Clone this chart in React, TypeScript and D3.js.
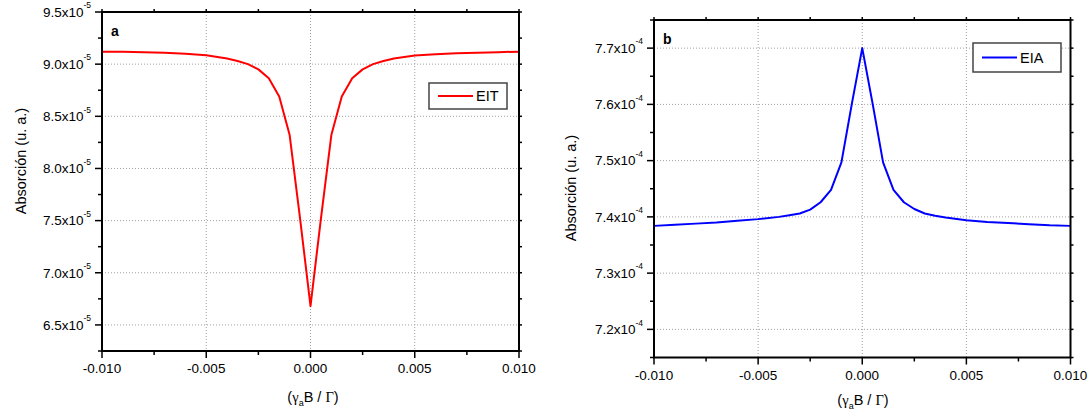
import React from "react";
import * as d3 from "d3";

// ---------- data ----------
const eitX = [-0.010, -0.009, -0.008, -0.007, -0.006, -0.005, -0.004, -0.0035, -0.003, -0.0025, -0.002, -0.0015, -0.001, -0.0005, 0,
  0.0005, 0.001, 0.0015, 0.002, 0.0025, 0.003, 0.0035, 0.004, 0.005, 0.006, 0.007, 0.008, 0.009, 0.010];
const eitY = [9.12, 9.118, 9.115, 9.11, 9.10, 9.085, 9.055, 9.03, 9.0, 8.95, 8.865, 8.69, 8.32, 7.52, 6.68,
  7.52, 8.32, 8.69, 8.865, 8.95, 9.0, 9.03, 9.055, 9.082, 9.096, 9.104, 9.11, 9.115, 9.12];

const eiaX = [-0.010, -0.009, -0.008, -0.007, -0.006, -0.005, -0.004, -0.0035, -0.003, -0.0025, -0.002, -0.0015, -0.001, -0.0005, 0,
  0.0005, 0.001, 0.0015, 0.002, 0.0025, 0.003, 0.0035, 0.004, 0.005, 0.006, 0.007, 0.008, 0.009, 0.010];
const eiaY = [7.384, 7.386, 7.388, 7.390, 7.393, 7.396, 7.400, 7.403, 7.406, 7.413, 7.426, 7.448, 7.497, 7.601, 7.700,
  7.601, 7.497, 7.448, 7.426, 7.414, 7.406, 7.402, 7.399, 7.394, 7.391, 7.389, 7.387, 7.385, 7.384];

const xMajor = [-0.01, -0.005, 0, 0.005, 0.01];
const xMajorLabels = ["-0.010", "-0.005", "0.000", "0.005", "0.010"];
const xMinor = [-0.0075, -0.0025, 0.0025, 0.0075];

const eitYMajor = [6.5, 7.0, 7.5, 8.0, 8.5, 9.0, 9.5];
const eitYMajorLabels = ["6.5", "7.0", "7.5", "8.0", "8.5", "9.0", "9.5"];
const eitYMinor = [6.25, 6.75, 7.25, 7.75, 8.25, 8.75, 9.25];
const eitExp = "-5";

const eiaYMajor = [7.2, 7.3, 7.4, 7.5, 7.6, 7.7];
const eiaYMajorLabels = ["7.2", "7.3", "7.4", "7.5", "7.6", "7.7"];
const eiaYMinor = [7.15, 7.25, 7.35, 7.45, 7.55, 7.65, 7.75];
const eiaExp = "-4";

const yTitle = "Absorción (u. a.)";

type PanelProps = {
  left: number; right: number; top: number; bottom: number;
  yDomain: [number, number];
  xs: number[]; ys: number[];
  yMajor: number[]; yMajorLabels: string[]; yMinor: number[]; exp: string;
  color: string; legend: string; tag: string;
  legendBox: [number, number, number, number];
  yTitleX: number; yTitleY: number; xTitleY: number; xTitleX: number;
};

const FONT = "Liberation Sans, Arial, sans-serif";

function Panel(p: PanelProps) {
  const x = d3.scaleLinear().domain([-0.01, 0.01]).range([p.left, p.right]);
  const y = d3.scaleLinear().domain(p.yDomain).range([p.bottom, p.top]);
  const pts = p.xs.map((v, i) => [v, p.ys[i]] as [number, number]);
  const line = d3.line<[number, number]>().x(d => x(d[0])).y(d => y(d[1]));
  const allY = [...p.yMajor, ...p.yMinor];
  const allX = [...xMajor, ...xMinor];
  const [lx, ly, lw, lh] = p.legendBox;
  return (
    <g>
      {/* grid */}
      {xMajor.filter(v => v > -0.01 && v < 0.01).map(v => (
        <line key={"gx" + v} x1={x(v)} x2={x(v)} y1={p.top} y2={p.bottom}
          stroke="#a0a0a0" strokeWidth={1} strokeDasharray="1 2" />
      ))}
      {p.yMajor.filter(v => y(v) > p.top + 2 && y(v) < p.bottom - 2).map(v => (
        <line key={"gy" + v} x1={p.left} x2={p.right} y1={y(v)} y2={y(v)}
          stroke="#a0a0a0" strokeWidth={1} strokeDasharray="1 2" />
      ))}
      {/* curve */}
      <path d={line(pts) || ""} fill="none" stroke={p.color} strokeWidth={2} strokeLinejoin="round" />
      {/* frame */}
      <rect x={p.left} y={p.top} width={p.right - p.left} height={p.bottom - p.top}
        fill="none" stroke="#000" strokeWidth={2} />
      {/* left ticks */}
      {p.yMajor.map(v => (
        <line key={"ly" + v} x1={p.left - 7} x2={p.left} y1={y(v)} y2={y(v)} stroke="#000" strokeWidth={1.5} />
      ))}
      {p.yMinor.map(v => (
        <line key={"lym" + v} x1={p.left - 4} x2={p.left} y1={y(v)} y2={y(v)} stroke="#000" strokeWidth={1.5} />
      ))}
      {/* right ticks */}
      {allY.map(v => (
        <line key={"ry" + v} x1={p.right} x2={p.right + 3} y1={y(v)} y2={y(v)} stroke="#000" strokeWidth={1.5} />
      ))}
      {/* bottom ticks */}
      {xMajor.map(v => (
        <line key={"bx" + v} x1={x(v)} x2={x(v)} y1={p.bottom} y2={p.bottom + 7} stroke="#000" strokeWidth={1.5} />
      ))}
      {xMinor.map(v => (
        <line key={"bxm" + v} x1={x(v)} x2={x(v)} y1={p.bottom} y2={p.bottom + 4} stroke="#000" strokeWidth={1.5} />
      ))}
      {/* top ticks */}
      {allX.map(v => (
        <line key={"tx" + v} x1={x(v)} x2={x(v)} y1={p.top - 3} y2={p.top} stroke="#000" strokeWidth={1.5} />
      ))}
      {/* y tick labels */}
      {p.yMajor.map((v, i) => (
        <text key={"yl" + v} x={p.left - 11} y={y(v) + 4.8} textAnchor="end" fontFamily={FONT} fontSize={13.5} fill="#000">
          {p.yMajorLabels[i]}x10<tspan fontSize={8.5} dy={-8.5}>{p.exp}</tspan>
        </text>
      ))}
      {/* x tick labels */}
      {xMajor.map((v, i) => (
        <text key={"xl" + v} x={x(v)} y={p.bottom + 22} textAnchor="middle" fontFamily={FONT} fontSize={13.5} fill="#000">
          {xMajorLabels[i]}
        </text>
      ))}
      {/* axis titles */}
      <text transform={`translate(${p.yTitleX},${p.yTitleY}) rotate(-90)`} textAnchor="middle"
        fontFamily={FONT} fontSize={14.5} fill="#000">{yTitle}</text>
      <text x={p.xTitleX} y={p.xTitleY} textAnchor="middle" fontFamily={FONT} fontSize={14.5} fill="#000">
        (<tspan fontFamily="Liberation Serif, serif">γ</tspan><tspan fontSize={9} dy={4}>a</tspan><tspan dy={-4}>B / </tspan><tspan fontFamily="Liberation Serif, serif">Γ</tspan>)
      </text>
      {/* panel tag */}
      <text x={p.left + 9} y={p.top + 24} fontFamily={FONT} fontSize={14} fontWeight="bold" fill="#000">{p.tag}</text>
      {/* legend */}
      <rect x={lx} y={ly} width={lw} height={lh} fill="#fff" stroke="#444" strokeWidth={1.5} />
      <line x1={lx + 9} x2={lx + 44} y1={ly + lh / 2} y2={ly + lh / 2} stroke={p.color} strokeWidth={2} />
      <text x={lx + 47} y={ly + lh / 2 + 5} fontFamily={FONT} fontSize={14.5} fill="#000">{p.legend}</text>
    </g>
  );
}

export default function App() {
  return (
    <svg width={1089} height={416} style={{ position: "absolute", left: 0, top: 0, background: "#fff" }}>
      <rect width={1089} height={416} fill="#fff" />
      <Panel left={102} right={519} top={12} bottom={351} yDomain={[6.25, 9.5]}
        xs={eitX} ys={eitY} yMajor={eitYMajor} yMajorLabels={eitYMajorLabels} yMinor={eitYMinor} exp={eitExp}
        color="#ff0000" legend="EIT" tag="a" legendBox={[429, 83, 78, 26]}
        yTitleX={26} yTitleY={161} xTitleX={313} xTitleY={402} />
      <Panel left={654} right={1070.5} top={20} bottom={357.5} yDomain={[7.15, 7.75]}
        xs={eiaX} ys={eiaY} yMajor={eiaYMajor} yMajorLabels={eiaYMajorLabels} yMinor={eiaYMinor} exp={eiaExp}
        color="#0000ff" legend="EIA" tag="b" legendBox={[973, 43, 88, 29]}
        yTitleX={576} yTitleY={188} xTitleX={863} xTitleY={405} />
    </svg>
  );
}
